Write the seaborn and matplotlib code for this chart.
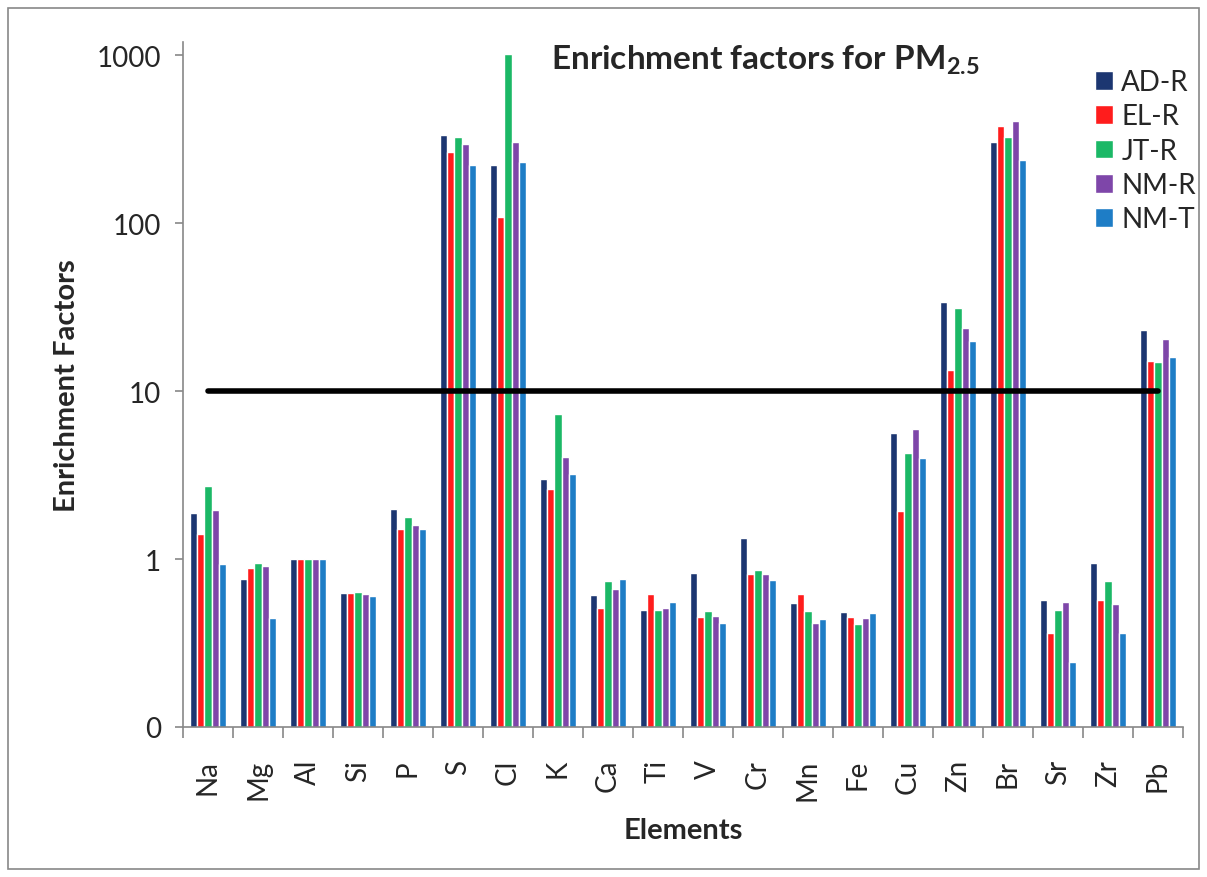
import numpy as np
import pandas as pd
import matplotlib
matplotlib.use("Agg")
import matplotlib.pyplot as plt
import seaborn as sns
from matplotlib.patches import Rectangle
from matplotlib.ticker import FixedLocator, NullLocator

elements = ["Na", "Mg", "Al", "Si", "P", "S", "Cl", "K", "Ca", "Ti", "V", "Cr",
            "Mn", "Fe", "Cu", "Zn", "Br", "Sr", "Zr", "Pb"]
sites = ["AD-R", "EL-R", "JT-R", "NM-R", "NM-T"]
ad_r = [1.88, 0.76, 1.0, 0.625, 1.98, 334, 223, 2.99, 0.61, 0.50, 0.83, 1.33,
        0.544, 0.484, 5.6, 33.9, 305, 0.57, 0.95, 23.1]
el_r = [1.41, 0.88, 1.0, 0.625, 1.51, 265, 109, 2.61, 0.51, 0.62, 0.454, 0.815,
        0.62, 0.452, 1.94, 13.3, 376, 0.361, 0.57, 15.1]
jt_r = [2.71, 0.946, 1.0, 0.634, 1.78, 324, 1010, 7.3, 0.74, 0.50, 0.49, 0.86,
        0.49, 0.41, 4.26, 31.3, 325, 0.497, 0.74, 14.9]
nm_r = [1.95, 0.91, 1.0, 0.62, 1.59, 294, 306, 4.03, 0.66, 0.51, 0.456, 0.81,
        0.418, 0.448, 5.92, 23.7, 404, 0.552, 0.54, 20.4]
nm_t = [0.93, 0.445, 1.0, 0.60, 1.51, 223, 231, 3.19, 0.757, 0.555, 0.414, 0.75,
        0.44, 0.478, 3.97, 19.8, 238, 0.245, 0.363, 15.9]
threshold = 10
ytick_values = [0.1, 1, 10, 100, 1000]
ytick_labels = ["0", "1", "10", "100", "1000"]

colors = ["#1C3671", "#FF1C1C", "#1BB866", "#7E46A9", "#1E7DC6"]

series = [ad_r, el_r, jt_r, nm_r, nm_t]
rows = []
for site, vals in zip(sites, series):
    for el, v in zip(elements, vals):
        rows.append({"Element": el, "Site": site, "EF": v})
df = pd.DataFrame(rows)

sns.set_theme(style="white")
plt.rcParams["font.family"] = ["Lato", "DejaVu Sans"]
plt.rcParams["mathtext.fontset"] = "custom"
plt.rcParams["mathtext.rm"] = "Lato"
plt.rcParams["mathtext.bf"] = "Lato:bold"

W, H = 1207, 878
fig = plt.figure(figsize=(W / 100, H / 100), dpi=100)
ax = fig.add_axes([183 / W, 1 - 728 / H, 1000 / W, (728 - 42.7) / H])

sns.barplot(data=df, x="Element", y="EF", hue="Site", order=elements,
            hue_order=sites, palette=colors, width=0.72, edgecolor="white",
            linewidth=1.0, saturation=1, errorbar=None, ax=ax)
ax.set_yscale("log")
ax.set_ylim(0.1, 10 ** 3.08)
ax.set_xlim(-0.5, len(elements) - 0.5)

# threshold line
ax.plot([0, len(elements) - 1], [threshold, threshold], color="black", lw=4,
        solid_capstyle="round", zorder=5)

# ticks
ax.yaxis.set_major_locator(FixedLocator(ytick_values))
ax.yaxis.set_minor_locator(NullLocator())
ax.set_yticklabels(ytick_labels)
ax.tick_params(axis="y", which="major", length=6, width=1.2, color="#888888",
               labelsize=20, pad=10, direction="out", left=True)
ax.set_xticks(range(len(elements)))
ax.set_xticklabels(elements, rotation=90)
ax.set_xticks(np.arange(-0.5, len(elements)), minor=True)
ax.tick_params(axis="x", which="major", length=0, labelsize=20, pad=23)
ax.tick_params(axis="x", which="minor", length=8, width=1.2, color="#888888",
               direction="out", bottom=True)

for s in ["top", "right"]:
    ax.spines[s].set_visible(False)
for s in ["left", "bottom"]:
    ax.spines[s].set_color("#888888")
    ax.spines[s].set_linewidth(1.2)

ax.set_xlabel("Elements", fontsize=21, fontweight="bold", labelpad=12)
ax.set_ylabel("Enrichment Factors", fontsize=21, fontweight="bold", labelpad=12)

fig.text(765 / W, 1 - 60 / H, r"Enrichment factors for PM$_\mathbf{2.5}$",
         ha="center", va="center", fontsize=24, fontweight="bold")

handles, labels = ax.get_legend_handles_labels()
ax.legend(handles, labels, loc="upper left",
          bbox_to_anchor=(1095 / W, 1 - 70 / H), bbox_transform=fig.transFigure,
          frameon=False, fontsize=20, handlelength=0.65, handleheight=0.65,
          handletextpad=0.3, labelspacing=0.3, borderaxespad=0, borderpad=0)

fig.patches.append(Rectangle((8 / W, 8 / H), 1 - 16 / W, 1 - 17 / H,
                             transform=fig.transFigure, fill=False,
                             edgecolor="#888888", lw=1.2))

fig.savefig("out.png", dpi=100)
